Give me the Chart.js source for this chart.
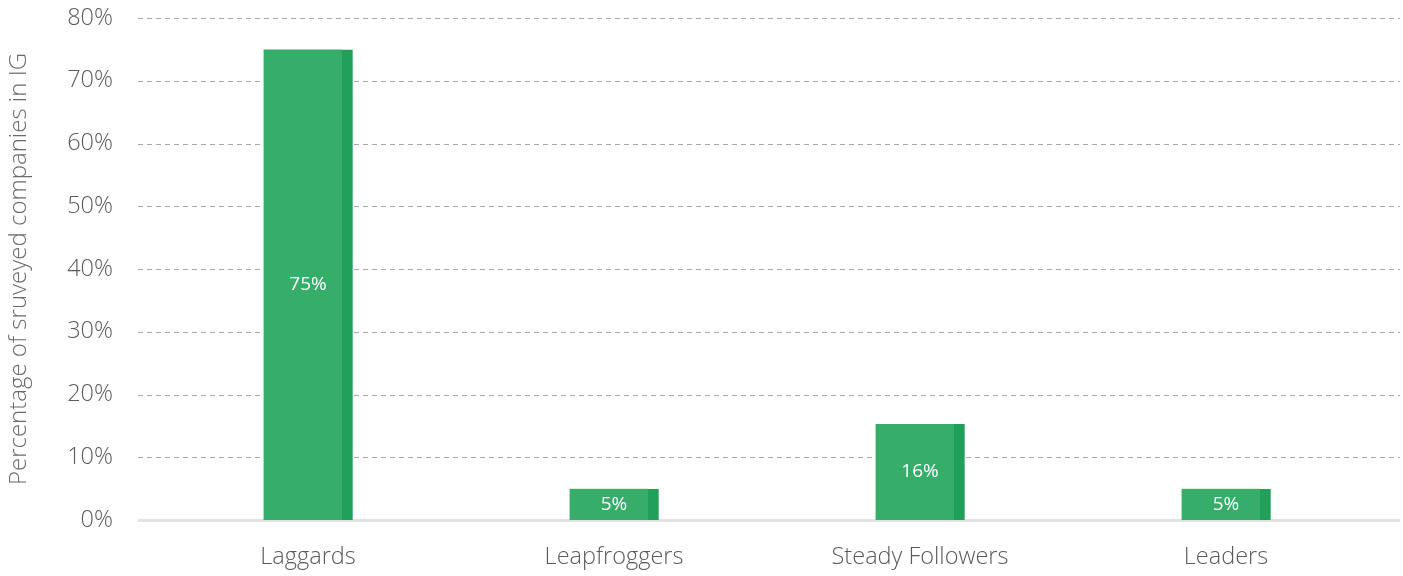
<!DOCTYPE html>
<html>
<head>
<meta charset="utf-8">
<script src="https://cdn.jsdelivr.net/npm/chart.js@4.4.0/dist/chart.umd.min.js"></script>
<style>
  html, body { margin: 0; padding: 0; background: #fff; }
  #wrap { width: 1403px; height: 576px; }
</style>
</head>
<body>
<div id="wrap"><canvas id="chartCanvas" width="1403" height="576"></canvas></div>
<script>
const categories = ["Laggards", "Leapfroggers", "Steady Followers", "Leaders"];
const shares = [75, 5, 15.3, 5];
const shareLabels = ["75%", "5%", "16%", "5%"];
const yTicks = [0, 10, 20, 30, 40, 50, 60, 70, 80];

const FONT = "'Open Sans', 'Noto Sans', sans-serif";

// dashed gridlines spanning the full width, plus the light baseline
const gridPlugin = {
  id: 'fullGrid',
  beforeDatasetsDraw(chart) {
    const ctx = chart.ctx;
    const y = chart.scales.y;
    ctx.save();
    yTicks.forEach(v => {
      const py = Math.round(y.getPixelForValue(v)) + 0.5;
      if (v === 0) {
        ctx.setLineDash([]);
        ctx.strokeStyle = '#e2e2e2';
        ctx.lineWidth = 3;
      } else {
        ctx.setLineDash([5, 4]);
        ctx.strokeStyle = '#a8a8a8';
        ctx.lineWidth = 1;
      }
      ctx.beginPath();
      ctx.moveTo(138, py);
      ctx.lineTo(1400, py);
      ctx.stroke();
    });
    ctx.restore();
  }
};

const labelPlugin = {
  id: 'barLabels',
  afterDatasetsDraw(chart) {
    const ctx = chart.ctx;
    const meta = chart.getDatasetMeta(0);
    ctx.save();
    ctx.fillStyle = '#ffffff';
    ctx.font = "19px " + FONT;
    ctx.textAlign = 'center';
    ctx.textBaseline = 'middle';
    meta.data.forEach((bar, i) => {
      ctx.fillText(shareLabels[i], bar.x, (bar.y + bar.base) / 2);
    });
    ctx.restore();
  }
};

const ctx = document.getElementById('chartCanvas').getContext('2d');
new Chart(ctx, {
  type: 'bar',
  data: {
    labels: categories,
    datasets: [{
      data: shares,
      backgroundColor: '#36ae6a',
      borderColor: '#21a05a',
      borderWidth: { top: 0, left: 0, bottom: 0, right: 11 },
      borderSkipped: false,
      barThickness: 89
    }]
  },
  options: {
    responsive: false,
    animation: false,
    layout: { padding: { top: 18, right: 24, left: 0, bottom: 0 } },
    plugins: {
      legend: { display: false },
      tooltip: { enabled: false }
    },
    scales: {
      x: {
        grid: { display: false, drawTicks: false },
        border: { display: false },
        ticks: {
          color: '#5a5a5a',
          font: { family: FONT, size: 23.5, weight: 300 },
          padding: 23
        },
        afterFit(scale) {
          scale.height = 56;
          scale.paddingLeft = 0;
          scale.paddingRight = 0;
        }
      },
      y: {
        min: 0,
        max: 80,
        grid: { display: false, drawTicks: false },
        border: { display: false },
        afterBuildTicks(scale) {
          scale.ticks = yTicks.map(v => ({ value: v }));
        },
        ticks: {
          color: '#5a5a5a',
          font: { family: FONT, size: 23.5, weight: 300 },
          padding: 42,
          callback: v => v + '%'
        },
        title: {
          display: true,
          text: 'Percentage of sruveyed companies in IG',
          color: '#6a6a6a',
          font: { family: FONT, size: 24, weight: 300 },
          padding: { top: 5, bottom: 0 }
        },
        afterFit(scale) {
          scale.width = 155;
          scale.paddingTop = 0;
          scale.paddingBottom = 0;
        }
      }
    }
  },
  plugins: [gridPlugin, labelPlugin]
});
</script>
</body>
</html>
